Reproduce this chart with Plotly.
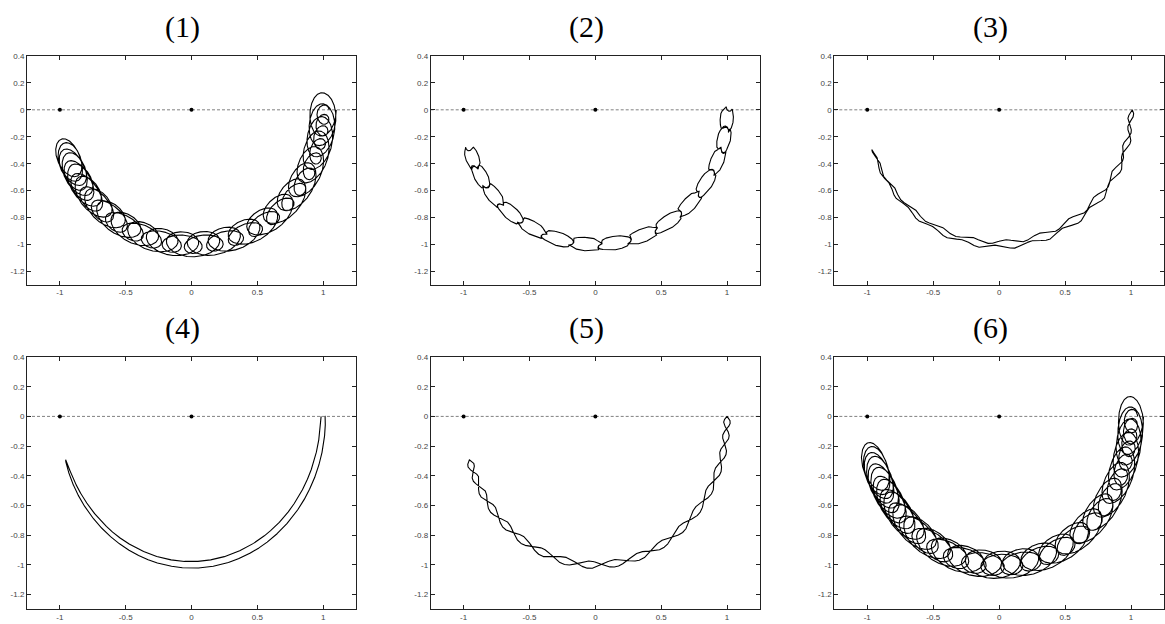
import numpy as np
import plotly.graph_objects as go

# ---- text / axes ----
TITLES = ["(1)", "(2)", "(3)", "(4)", "(5)", "(6)"]
X_TICK_VALS = [-1, -0.5, 0, 0.5, 1]
X_TICK_TEXT = ["-1", "-0.5", "0", "0.5", "1"]
Y_TICK_VALS = [0.4, 0.2, 0, -0.2, -0.4, -0.6, -0.8, -1, -1.2]
Y_TICK_TEXT = ["0.4", "0.2", "0", "-0.2", "-0.4", "-0.6", "-0.8", "-1", "-1.2"]
X_RANGE = [-1.25, 1.25]
Y_RANGE = [-1.3, 0.4]
CENTRE_X = [-1, 0]
CENTRE_Y = [0, 0]
BASE_X = [-1.25, 1.25]
BASE_Y = [0, 0]

# ---- trajectory parameters (one entry per panel) ----
SWING_DEG = [160, 163, 163, 163, 163, 161]   # angular extent of the swing
LOOPS     = [44, 15, 24, 0, 19, 50]          # oscillation cycles over out+back
WARP      = [0.5, 0.3, 0.2, 1.0, 0.5, 0.5]   # slowing near the turning points
# radial / tangential loop semi-axes at start, at the far tip, at the end
RAD_START = [0.1, 0.0, 0.01, 0.0, 0.0, 0.095]
RAD_TIP   = [0.085, 0.0, 0.01, 0.0, 0.0, 0.09]
RAD_END   = [0.045, 0.0, 0.01, 0.0, 0.0, 0.05]
TAN_START = [0.18, 0.0, 0.0, 0.0, 0.0, 0.18]
TAN_TIP   = [0.15, 0.0, 0.0, 0.0, 0.0, 0.17]
TAN_END   = [0.05, 0.0, 0.0, 0.0, 0.0, 0.06]
TAN_DOUBLE = [0.0, -0.034, 0.0, 0.0, 0.0, 0.0]  # strands turn steeply where they cross
CURL_AMP  = [0.0, 0.02, 0.0, 0.0, 0.0, 0.0]     # small curls at the crossings
ANTI_AMP  = [0.0, 0.05, 0.005, 0.0, 0.025, 0.0]
ANTI_END  = [0.0, 0.0, 0.012, 0.0, 0.0, 0.0]
END_SPLIT = [0.0, 0.0, 0.0, -0.015, 0.0, 0.0]
MID_SPLIT = [0.0, 0.0, 0.019, -0.012, 0.0, 0.0]


def profile(u, start, tip, end):
    return np.where(u < 0.5, start + (tip - start) * 2 * u, tip + (end - tip) * (2 * u - 1))


def trajectory(i):
    u = np.linspace(0.0, 1.0, 40001)
    S = np.radians(SWING_DEG[i])
    w = WARP[i]
    th = 2 * np.pi * LOOPS[i] * u
    h = w * (1 - np.cos(2 * np.pi * u)) / 2 + (1 - w) * (1 - np.abs(2 * u - 1))
    direction = np.sign(0.5 - u)
    a = profile(u, RAD_START[i], RAD_TIP[i], RAD_END[i])
    b = profile(u, TAN_START[i], TAN_TIP[i], TAN_END[i])
    env = np.cos(th) ** 4
    ds = (b * np.sin(th) + TAN_DOUBLE[i] * direction * np.sin(2 * th)
          + CURL_AMP[i] * env * np.sin(5 * th))
    dn = (a * np.cos(th)
          + (ANTI_AMP[i] + ANTI_END[i] * np.cos(np.pi * u) ** 2) * np.sin(th)
          + CURL_AMP[i] * env * (1 - np.cos(5 * th)) * 0.5
          + END_SPLIT[i] * np.cos(np.pi * u)
          + MID_SPLIT[i] * np.sin(2 * np.pi * u))
    r = 1 + dn
    phi = -(S * h + ds)
    return r * np.cos(phi), r * np.sin(phi)


W, H = 1165, 624
COL_PX = [(27, 356), (430.7, 760), (834.3, 1164)]
ROW_PX = [(52.3, 282.7), (355.3, 609.3)]

fig = go.Figure()
layout = dict(
    width=W, height=H, margin=dict(l=0, r=0, t=0, b=0),
    paper_bgcolor="white", plot_bgcolor="white", showlegend=False,
    annotations=[],
)

for i in range(6):
    row, col = divmod(i, 3)
    x0, x1 = COL_PX[col]
    y0, y1 = ROW_PX[row]
    k = "" if i == 0 else str(i + 1)
    xa, ya = "x" + k, "y" + k
    axis_common = dict(
        showline=True, linecolor="#222", linewidth=1, mirror="ticks",
        ticks="inside", ticklen=4, tickcolor="#222", tickwidth=1,
        showgrid=False, zeroline=False,
        tickfont=dict(family="Liberation Sans", size=8, color="#444"),
    )
    layout["xaxis" + k] = dict(axis_common, domain=[x0 / W, x1 / W], range=X_RANGE,
                               tickvals=X_TICK_VALS, ticktext=X_TICK_TEXT,
                               anchor=ya)
    layout["yaxis" + k] = dict(axis_common, domain=[1 - y1 / H, 1 - y0 / H], range=Y_RANGE,
                               tickvals=Y_TICK_VALS, ticktext=Y_TICK_TEXT,
                               anchor=xa)
    fig.add_trace(go.Scatter(x=BASE_X, y=BASE_Y, mode="lines", xaxis=xa, yaxis=ya,
                             line=dict(color="#808080", width=1, dash="3px,2px"),
                             hoverinfo="skip"))
    tx, ty = trajectory(i)
    fig.add_trace(go.Scatter(x=tx, y=ty, mode="lines", xaxis=xa, yaxis=ya,
                             line=dict(color="black", width=1.1), hoverinfo="skip"))
    fig.add_trace(go.Scatter(x=CENTRE_X, y=CENTRE_Y, mode="markers", xaxis=xa, yaxis=ya,
                             marker=dict(color="black", size=4)))
    layout["annotations"].append(dict(
        text=TITLES[i], xref="paper", yref="paper",
        x=((x0 + x1) / 2 - 9) / W, y=1 - (y0 - 29) / H,
        xanchor="center", yanchor="middle", showarrow=False,
        font=dict(family="Liberation Serif", size=30, color="black")))

fig.update_layout(**layout)
fig.write_html("out.html", config={"displayModeBar": False},
               post_script="document.body.style.margin='0';document.body.style.padding='0';")
